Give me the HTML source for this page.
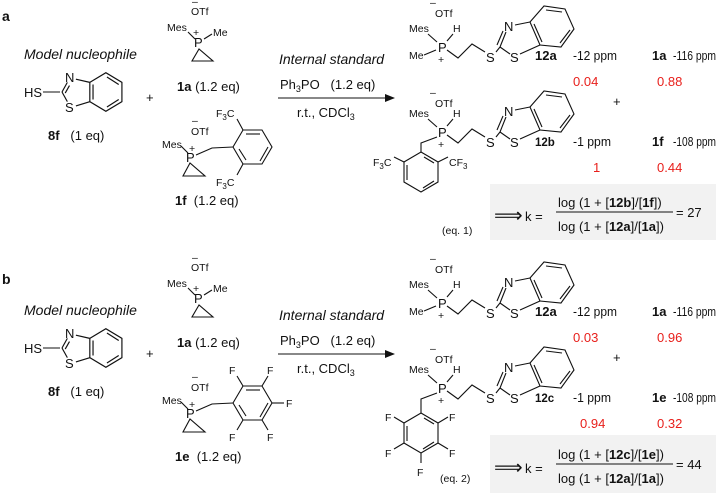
<!DOCTYPE html>
<html><head><meta charset="utf-8"><style>
html,body{margin:0;padding:0;background:#fff;}
svg{display:block;font-family:"Liberation Sans",sans-serif;}
text{white-space:pre;}
.t{font-size:13px;fill:#111;}
.p{font-size:13px;fill:#111;}
.s{font-size:10.5px;fill:#111;}
.r{font-size:13px;fill:#e8201c;}
.b{font-weight:bold;}
.i{font-style:italic;}
line,polyline,polygon{stroke:#111;stroke-width:1.1;fill:none;}
</style></head><body>
<svg width="719" height="493" viewBox="0 0 719 493" xmlns="http://www.w3.org/2000/svg">
<defs>
 <g id="btz">
  <line x1="0" y1="0" x2="5" y2="-9"/>
  <line x1="3" y1="1" x2="7" y2="-6"/>
  <line x1="13" y1="-12" x2="26" y2="-9"/>
  <line x1="0" y1="0" x2="5" y2="9"/>
  <line x1="13" y1="13" x2="26" y2="9"/>
  <polyline points="26,-9 41,-18 56,-9 56,9 41,18 26,9 26,-9"/>
  <line x1="29" y1="-7" x2="29" y2="7"/>
  <line x1="42" y1="-14" x2="53" y2="-7"/>
  <line x1="42" y1="14" x2="53" y2="7"/>
 </g>
 <g id="pbtz">
  <line x1="0" y1="0" x2="6" y2="-15"/>
  <line x1="-3" y1="-2" x2="3" y2="-16"/>
  <line x1="15" y1="-22" x2="30" y2="-25"/>
  <line x1="0" y1="0" x2="10" y2="7"/>
  <line x1="20" y1="7" x2="40" y2="-2"/>
  <polygon points="30,-25 40,-2 61,0 74,-18 65,-38 44,-41"/>
  <line x1="60" y1="-4" x2="70" y2="-17"/>
  <line x1="46" y1="-37" x2="62" y2="-35"/>
  <line x1="34" y1="-23" x2="42" y2="-5"/>
 </g>
 <marker id="ah" markerWidth="10" markerHeight="8" refX="9" refY="4" orient="auto" markerUnits="userSpaceOnUse">
  <polygon points="0,0 10,4 0,8" style="fill:#111;stroke:none"/>
 </marker>
</defs>

<g id="A">
<text x="2" y="21" class="t b" style="font-size:14px">a</text>
<text x="24" y="59" class="t i" style="font-size:14px">Model nucleophile</text>
<text x="24" y="97" class="t">HS</text>
<line x1="43" y1="92" x2="60" y2="92"/>
<use href="#btz" transform="translate(62,92) scale(1.07)"/>
<text x="65" y="82" class="t">N</text>
<text x="65" y="112" class="t">S</text>
<text x="48" y="140" class="t"><tspan class="b">8f</tspan>   (1 eq)</text>
<text x="146" y="102" class="t">+</text>

<text x="192" y="5" class="s">–</text>
<text x="191" y="15" class="s">OTf</text>
<text x="167" y="31" class="s">Mes</text>
<text x="193" y="36" class="s">+</text>
<text x="213" y="36" class="s">Me</text>
<text x="194" y="47" class="t">P</text>
<line x1="188" y1="32" x2="195" y2="39"/>
<line x1="212" y1="34" x2="204" y2="39"/>
<polygon points="199,49 192,61 213,61"/>
<text x="177" y="91" class="t"><tspan class="b">1a</tspan> (1.2 eq)</text>

<text x="192" y="124" class="s">–</text>
<text x="191" y="135" class="s">OTf</text>
<text x="162" y="148" class="s">Mes</text>
<text x="189" y="152" class="s">+</text>
<text x="186" y="162" class="t">P</text>
<line x1="181" y1="146" x2="188" y2="153"/>
<polygon points="190,163 183,176 205,176"/>
<polyline points="196,155 212,148 233,147"/>
<polygon points="233,147 243,130 262,130 272,147 262,164 243,164"/>
<line x1="246" y1="134" x2="260" y2="134"/>
<line x1="268" y1="147" x2="260" y2="161"/>
<line x1="246" y1="160" x2="239" y2="149"/>
<line x1="243" y1="130" x2="237" y2="119"/>
<line x1="243" y1="164" x2="237" y2="175"/>
<text x="216" y="117" class="s">F<tspan dy="3" style="font-size:8px">3</tspan><tspan dy="-3">C</tspan></text>
<text x="216" y="186" class="s">F<tspan dy="3" style="font-size:8px">3</tspan><tspan dy="-3">C</tspan></text>
<text x="175" y="205" class="t"><tspan class="b">1f</tspan>  (1.2 eq)</text>

<text x="279" y="64" class="t i" style="font-size:14px">Internal standard</text>
<text x="280" y="89" class="t">Ph<tspan dy="3" style="font-size:9px">3</tspan><tspan dy="-3">PO   (1.2 eq)</tspan></text>
<line x1="278" y1="98" x2="394" y2="98" marker-end="url(#ah)"/>
<text x="297" y="117" class="t">r.t., CDCl<tspan dy="3" style="font-size:9px">3</tspan></text>

<text x="430" y="6" class="s">–</text>
<text x="435" y="17" class="s">OTf</text>
<text x="409" y="32" class="s">Mes</text>
<text x="453" y="32" class="s">H</text>
<text x="409" y="59" class="s">Me</text>
<text x="438" y="52" class="t">P</text>
<text x="438" y="63" class="s">+</text>
<line x1="428" y1="34" x2="437" y2="42"/>
<line x1="453" y1="34" x2="447" y2="41"/>
<line x1="424" y1="55" x2="436" y2="50"/>
<polyline points="447,50 458,58 472,44 485,52"/>
<text x="486" y="62" class="t">S</text>
<line x1="496" y1="52" x2="500" y2="47"/>
<use href="#pbtz" x="500" y="47"/>
<text x="504" y="31" class="t">N</text>
<text x="510" y="62" class="t">S</text>
<text x="535" y="60" class="p b">12a</text>
<text x="573" y="60" class="p" textLength="44" lengthAdjust="spacingAndGlyphs">-12 ppm</text>
<text x="652" y="60" class="p b">1a</text>
<text x="673" y="60" class="p" textLength="43" lengthAdjust="spacingAndGlyphs">-116 ppm</text>
<text x="573" y="86" class="r">0.04</text>
<text x="657" y="86" class="r">0.88</text>
<text x="613" y="106" class="t">+</text>

<text x="430" y="96" class="s">–</text>
<text x="435" y="107" class="s">OTf</text>
<text x="409" y="117" class="s">Mes</text>
<text x="453" y="117" class="s">H</text>
<text x="438" y="137" class="t">P</text>
<text x="438" y="148" class="s">+</text>
<line x1="428" y1="119" x2="437" y2="127"/>
<line x1="453" y1="119" x2="447" y2="126"/>
<polyline points="437,137 421,143 421,152"/>
<polygon points="421,152 438,162 438,182 421,192 404,182 404,162"/>
<line x1="424" y1="157" x2="434" y2="163"/>
<line x1="407" y1="165" x2="407" y2="180"/>
<line x1="423" y1="188" x2="434" y2="181"/>
<line x1="404" y1="162" x2="394" y2="157"/>
<line x1="438" y1="162" x2="448" y2="157"/>
<text x="373" y="166" class="s">F<tspan dy="3" style="font-size:8px">3</tspan><tspan dy="-3">C</tspan></text>
<text x="449" y="166" class="s">CF<tspan dy="3" style="font-size:8px">3</tspan></text>
<polyline points="447,135 458,143 472,129 485,137"/>
<text x="486" y="147" class="t">S</text>
<line x1="496" y1="137" x2="500" y2="132"/>
<use href="#pbtz" x="500" y="132"/>
<text x="504" y="116" class="t">N</text>
<text x="510" y="147" class="t">S</text>
<text x="535" y="146" class="p b" style="font-size:11.5px">12b</text>
<text x="573" y="146" class="p" textLength="38" lengthAdjust="spacingAndGlyphs">-1 ppm</text>
<text x="652" y="146" class="p b">1f</text>
<text x="673" y="146" class="p" textLength="43" lengthAdjust="spacingAndGlyphs">-108 ppm</text>
<text x="593" y="172" class="r">1</text>
<text x="657" y="172" class="r">0.44</text>
<text x="442" y="234" class="s">(eq. 1)</text>

<rect x="490" y="184" width="226" height="56" style="fill:#f2f2f2;stroke:none"/>
<text x="494" y="222" class="t" style="font-size:20px">⟹</text>
<text x="525" y="221" class="t">k =</text>
<text x="558" y="207" class="t">log (1 + [<tspan class="b">12b</tspan>]/[<tspan class="b">1f</tspan>])</text>
<line x1="556" y1="212" x2="673" y2="212"/>
<text x="676" y="217" class="t">= 27</text>
<text x="558" y="231" class="t">log (1 + [<tspan class="b">12a</tspan>]/[<tspan class="b">1a</tspan>])</text>
</g>

<text x="2" y="284" class="t b" style="font-size:14px">b</text>
<g transform="translate(0,256)">
<text x="24" y="59" class="t i" style="font-size:14px">Model nucleophile</text>
<text x="24" y="97" class="t">HS</text>
<line x1="43" y1="92" x2="60" y2="92"/>
<use href="#btz" transform="translate(62,92) scale(1.07)"/>
<text x="65" y="82" class="t">N</text>
<text x="65" y="112" class="t">S</text>
<text x="48" y="140" class="t"><tspan class="b">8f</tspan>   (1 eq)</text>
<text x="146" y="102" class="t">+</text>

<text x="192" y="5" class="s">–</text>
<text x="191" y="15" class="s">OTf</text>
<text x="167" y="31" class="s">Mes</text>
<text x="193" y="36" class="s">+</text>
<text x="213" y="36" class="s">Me</text>
<text x="194" y="47" class="t">P</text>
<line x1="188" y1="32" x2="195" y2="39"/>
<line x1="212" y1="34" x2="204" y2="39"/>
<polygon points="199,49 192,61 213,61"/>
<text x="177" y="91" class="t"><tspan class="b">1a</tspan> (1.2 eq)</text>

<text x="192" y="124" class="s">–</text>
<text x="191" y="135" class="s">OTf</text>
<text x="162" y="148" class="s">Mes</text>
<text x="189" y="152" class="s">+</text>
<text x="186" y="162" class="t">P</text>
<line x1="181" y1="146" x2="188" y2="153"/>
<polygon points="190,163 183,176 205,176"/>
<polyline points="196,155 212,148 233,147"/>
<polygon points="233,147 243,130 262,130 272,147 262,164 243,164"/>
<line x1="246" y1="134" x2="260" y2="134"/>
<line x1="268" y1="147" x2="260" y2="161"/>
<line x1="246" y1="160" x2="239" y2="149"/>
<line x1="243" y1="130" x2="237" y2="120"/>
<line x1="262" y1="130" x2="268" y2="120"/>
<line x1="272" y1="147" x2="284" y2="147"/>
<line x1="243" y1="164" x2="237" y2="174"/>
<line x1="262" y1="164" x2="268" y2="174"/>
<text x="229" y="118" class="s">F</text>
<text x="267" y="118" class="s">F</text>
<text x="286" y="151" class="s">F</text>
<text x="229" y="185" class="s">F</text>
<text x="267" y="185" class="s">F</text>
<text x="175" y="205" class="t"><tspan class="b">1e</tspan>  (1.2 eq)</text>

<text x="279" y="64" class="t i" style="font-size:14px">Internal standard</text>
<text x="280" y="89" class="t">Ph<tspan dy="3" style="font-size:9px">3</tspan><tspan dy="-3">PO   (1.2 eq)</tspan></text>
<line x1="278" y1="98" x2="394" y2="98" marker-end="url(#ah)"/>
<text x="297" y="117" class="t">r.t., CDCl<tspan dy="3" style="font-size:9px">3</tspan></text>

<text x="430" y="6" class="s">–</text>
<text x="435" y="17" class="s">OTf</text>
<text x="409" y="32" class="s">Mes</text>
<text x="453" y="32" class="s">H</text>
<text x="409" y="59" class="s">Me</text>
<text x="438" y="52" class="t">P</text>
<text x="438" y="63" class="s">+</text>
<line x1="428" y1="34" x2="437" y2="42"/>
<line x1="453" y1="34" x2="447" y2="41"/>
<line x1="424" y1="55" x2="436" y2="50"/>
<polyline points="447,50 458,58 472,44 485,52"/>
<text x="486" y="62" class="t">S</text>
<line x1="496" y1="52" x2="500" y2="47"/>
<use href="#pbtz" x="500" y="47"/>
<text x="504" y="31" class="t">N</text>
<text x="510" y="62" class="t">S</text>
<text x="535" y="60" class="p b">12a</text>
<text x="573" y="60" class="p" textLength="44" lengthAdjust="spacingAndGlyphs">-12 ppm</text>
<text x="652" y="60" class="p b">1a</text>
<text x="673" y="60" class="p" textLength="43" lengthAdjust="spacingAndGlyphs">-116 ppm</text>
<text x="573" y="86" class="r">0.03</text>
<text x="657" y="86" class="r">0.96</text>
<text x="613" y="106" class="t">+</text>

<text x="430" y="96" class="s">–</text>
<text x="435" y="107" class="s">OTf</text>
<text x="409" y="117" class="s">Mes</text>
<text x="453" y="117" class="s">H</text>
<text x="438" y="137" class="t">P</text>
<text x="438" y="148" class="s">+</text>
<line x1="428" y1="119" x2="437" y2="127"/>
<line x1="453" y1="119" x2="447" y2="126"/>
<polyline points="437,137 421,143 421,157"/>
<polygon points="421,157 438,167 438,187 421,197 404,187 404,167"/>
<line x1="424" y1="162" x2="434" y2="168"/>
<line x1="407" y1="170" x2="407" y2="185"/>
<line x1="423" y1="193" x2="434" y2="186"/>
<line x1="404" y1="167" x2="394" y2="161"/>
<line x1="438" y1="167" x2="448" y2="161"/>
<line x1="404" y1="187" x2="394" y2="193"/>
<line x1="438" y1="187" x2="448" y2="193"/>
<line x1="421" y1="197" x2="421" y2="207"/>
<text x="385" y="165" class="s">F</text>
<text x="449" y="165" class="s">F</text>
<text x="385" y="201" class="s">F</text>
<text x="449" y="201" class="s">F</text>
<text x="417" y="220" class="s">F</text>
<polyline points="447,135 458,143 472,129 485,137"/>
<text x="486" y="147" class="t">S</text>
<line x1="496" y1="137" x2="500" y2="132"/>
<use href="#pbtz" x="500" y="132"/>
<text x="504" y="116" class="t">N</text>
<text x="510" y="147" class="t">S</text>
<text x="535" y="146" class="p b" style="font-size:11.5px">12c</text>
<text x="573" y="146" class="p" textLength="38" lengthAdjust="spacingAndGlyphs">-1 ppm</text>
<text x="652" y="146" class="p b">1e</text>
<text x="673" y="146" class="p" textLength="43" lengthAdjust="spacingAndGlyphs">-108 ppm</text>
<text x="580" y="172" class="r">0.94</text>
<text x="657" y="172" class="r">0.32</text>
<text x="440" y="226" class="s">(eq. 2)</text>

<rect x="490" y="179" width="226" height="58" style="fill:#f2f2f2;stroke:none"/>
<text x="494" y="218" class="t" style="font-size:20px">⟹</text>
<text x="525" y="217" class="t">k =</text>
<text x="558" y="203" class="t">log (1 + [<tspan class="b">12c</tspan>]/[<tspan class="b">1e</tspan>])</text>
<line x1="556" y1="208" x2="673" y2="208"/>
<text x="676" y="213" class="t">= 44</text>
<text x="558" y="227" class="t">log (1 + [<tspan class="b">12a</tspan>]/[<tspan class="b">1a</tspan>])</text>
</g>
</svg>
</body></html>
